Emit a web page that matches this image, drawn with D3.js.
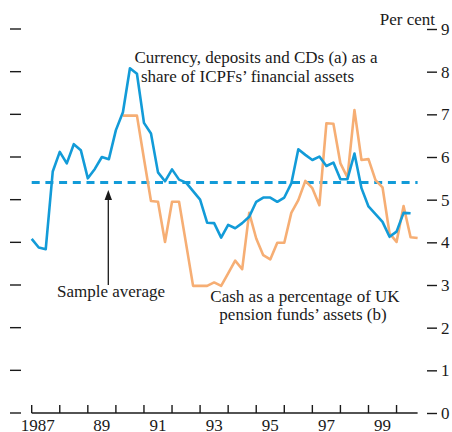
<!DOCTYPE html>
<html>
<head>
<meta charset="utf-8">
<script src="https://cdn.jsdelivr.net/npm/d3@7"></script>
<style>
  body { margin: 0; background: #fff; }
  svg { display: block; }
  text { font-family: "Liberation Serif", "DejaVu Serif", serif; fill: #1a1a1a; }
</style>
</head>
<body>
<div id="chart"></div>
<script>
// quarterly data, first quarter = 1987 Q1
var startYear = 1987;
var icpfShare = [4.08, 3.88, 3.84, 5.66, 6.12, 5.85, 6.30, 6.16, 5.50, 5.72, 6.00, 5.95,
  6.63, 7.05, 8.08, 7.95, 6.80, 6.55, 5.64, 5.43, 5.71, 5.47, 5.40, 5.20, 5.00, 4.46,
  4.45, 4.11, 4.41, 4.33, 4.45, 4.60, 4.95, 5.05, 5.05, 4.95, 5.05, 5.38, 6.18, 6.05,
  5.93, 6.01, 5.79, 5.87, 5.48, 5.48, 6.08, 5.27, 4.84, 4.66, 4.48, 4.13, 4.25, 4.69, 4.68];
var pensionCash = [null, null, null, null, null, null, null, null, null, null, null, null, null,
  6.97, 6.97, 6.97, 5.96, 4.97, 4.95, 4.01, 4.95, 4.95, 3.97, 2.98, 2.98, 2.98, 3.06, 2.98,
  3.27, 3.57, 3.37, 4.69, 4.09, 3.70, 3.60, 3.99, 3.99, 4.69, 4.99, 5.44, 5.27, 4.87,
  6.79, 6.78, 5.85, 5.52, 7.10, 5.93, 5.95, 5.46, 5.29, 4.21, 4.01, 4.85, 4.12, 4.10];
var sampleAverage = 5.40;
var yTicks = [0, 1, 2, 3, 4, 5, 6, 7, 8, 9];
var yearTicks = d3.range(1987, 2001);
var yearLabels = ["1987", "89", "91", "93", "95", "97", "99"];

var width = 452, height = 432;
var blue = "#129bd8", orange = "#f6ae74", ink = "#1a1a1a";
var fs = 17;

var svg = d3.select("#chart").append("svg")
  .attr("width", width)
  .attr("height", height);

var x = d3.scaleLinear().domain([startYear, startYear + 55 / 4]).range([31.7, 417.6]);
var y = d3.scaleLinear().domain([0, 9]).range([413, 29]);
var qx = function(d, i) { return x(startYear + i / 4); };

// left tick marks (no labels)
svg.append("g").selectAll("line").data(yTicks).join("line")
  .attr("x1", 10).attr("x2", 21)
  .attr("y1", d => y(d)).attr("y2", d => y(d))
  .attr("stroke", ink).attr("stroke-width", 1.4);

// right axis
var right = svg.append("g").attr("transform", "translate(427,0)")
  .call(d3.axisRight(y).tickValues(yTicks).tickSize(10).tickPadding(4));
right.select(".domain").remove();
right.selectAll("line").attr("stroke", ink).attr("stroke-width", 1.4);
right.selectAll("text").attr("font-size", fs).attr("fill", ink)
  .style("font-family", "Liberation Serif, serif");

svg.append("text")
  .attr("x", 435).attr("y", 25)
  .attr("text-anchor", "end")
  .attr("font-size", fs)
  .text("Per cent");

// bottom axis: ticks at year starts, labels at mid-year
var bottom = svg.append("g").attr("transform", "translate(0,413)");
bottom.append("line")
  .attr("x1", x(startYear)).attr("x2", x(startYear + 55 / 4))
  .attr("stroke", ink).attr("stroke-width", 1.4);
bottom.selectAll(".tk").data(yearTicks).join("line")
  .attr("class", "tk")
  .attr("x1", d => x(d)).attr("x2", d => x(d))
  .attr("y1", 0).attr("y2", -8)
  .attr("stroke", ink).attr("stroke-width", 1.4);
bottom.selectAll(".yl").data(yearLabels).join("text")
  .attr("class", "yl")
  .attr("x", (d, i) => x(startYear + 2 * i + 0.5) + (i === 0 ? 9 : 0))
  .attr("y", 18)
  .attr("text-anchor", (d, i) => i === 0 ? "end" : "middle")
  .attr("font-size", fs)
  .text(d => d);

// sample average dashed line
svg.append("line")
  .attr("x1", x(startYear)).attr("x2", x(startYear + 55 / 4))
  .attr("y1", y(sampleAverage)).attr("y2", y(sampleAverage))
  .attr("stroke", blue).attr("stroke-width", 3)
  .attr("stroke-dasharray", "8,5.7");

var line = d3.line()
  .defined(d => d != null)
  .x(qx)
  .y(d => y(d));

svg.append("path").datum(pensionCash)
  .attr("d", line)
  .attr("fill", "none").attr("stroke", orange)
  .attr("stroke-width", 2.6).attr("stroke-linejoin", "round");

svg.append("path").datum(icpfShare)
  .attr("d", line)
  .attr("fill", "none").attr("stroke", blue)
  .attr("stroke-width", 2.6).attr("stroke-linejoin", "round");

// arrow to the average line
svg.append("line")
  .attr("x1", 108.3).attr("x2", 108.3)
  .attr("y1", 285).attr("y2", 198)
  .attr("stroke", ink).attr("stroke-width", 1.3);
svg.append("path")
  .attr("d", "M108.3,190 L104.6,200 L112,200 Z")
  .attr("fill", ink);

// annotations
var notes = [
  { x: 256, y: 63, t: "Currency, deposits and CDs (a) as a" },
  { x: 247.5, y: 81.5, t: "share of ICPFs\u2019 financial assets" },
  { x: 111, y: 297, t: "Sample average" },
  { x: 305, y: 301.5, t: "Cash as a percentage of UK" },
  { x: 303, y: 320, t: "pension funds\u2019 assets (b)" }
];
svg.selectAll(".note").data(notes).join("text")
  .attr("class", "note")
  .attr("x", d => d.x).attr("y", d => d.y)
  .attr("text-anchor", "middle")
  .attr("font-size", fs)
  .text(d => d.t);
</script>
</body>
</html>
